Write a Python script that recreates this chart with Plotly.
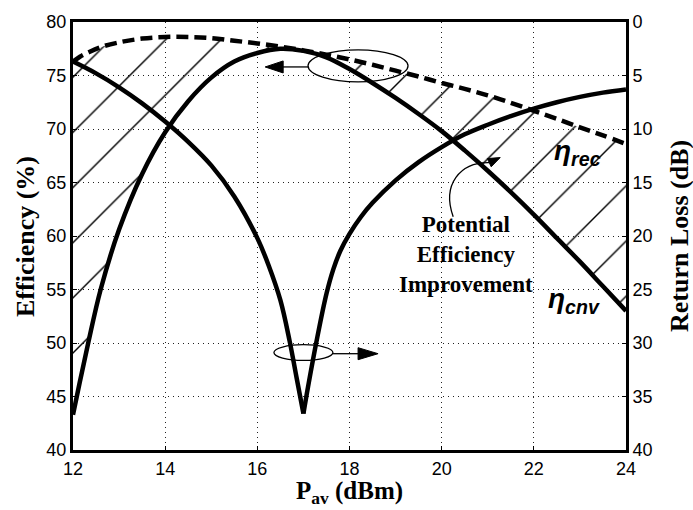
import plotly.graph_objects as go

# Available input power (dBm) for the efficiency curves
p_eff = [12, 12.15, 12.33, 12.6, 13, 13.5, 14, 14.5, 15, 15.5, 16, 16.5, 17, 17.5,
         18, 18.5, 19, 19.5, 20, 20.5, 21, 21.5, 22, 22.5, 23, 23.5, 24]
# Conversion efficiency (%)
eta_cnv = [43.3, 46.4, 50.0, 55.0, 60.6, 65.8, 69.7, 72.6, 74.8, 76.3, 77.1, 77.5, 77.3, 76.7,
           75.6, 74.3, 72.9, 71.4, 69.8, 68.0, 66.1, 64.1, 62.0, 59.8, 57.6, 55.3, 53.0]
# Rectifier efficiency (%)
eta_rec = [76.3, 76.75, 77.15, 77.65, 78.1, 78.45, 78.6, 78.6, 78.5, 78.25, 78.0, 77.7, 77.35, 76.95,
           76.5, 76.0, 75.45, 74.9, 74.3, 73.75, 73.15, 72.45, 71.7, 70.95, 70.15, 69.4, 68.6]

# Return loss (dB)
p_rl = [12, 12.5, 13, 13.5, 14, 14.5, 15, 15.5, 16, 16.25, 16.5, 16.7, 16.85, 17.0,
        17.1, 17.3, 17.5, 17.65, 17.8, 18.0, 18.25, 18.5, 19, 19.5, 20, 20.5, 21, 21.5,
        22, 22.5, 23, 23.5, 24]
return_loss = [3.7, 4.8, 6.1, 7.6, 9.3, 11.2, 13.4, 16.3, 20.2, 22.8, 26.0, 29.8, 33.2, 36.6,
               34.1, 29.5, 25.4, 23.1, 21.4, 19.8, 18.2, 16.9, 14.8, 13.1, 11.7, 10.5, 9.6, 8.8,
               8.1, 7.5, 7.0, 6.6, 6.3]

x_ticks = [12, 14, 16, 18, 20, 22, 24]
eff_ticks = [40, 45, 50, 55, 60, 65, 70, 75, 80]
rl_ticks = [0, 5, 10, 15, 20, 25, 30, 35, 40]

SERIF = "Liberation Serif, Times New Roman, serif"
SANS = "Liberation Sans, Arial, sans-serif"
LW = 4.5

fig = go.Figure()

# hatched band between the two efficiency curves
fig.add_trace(go.Scatter(x=p_eff, y=eta_cnv, mode="lines", line=dict(width=0, shape="spline"),
                         hoverinfo="skip", showlegend=False))
fig.add_trace(go.Scatter(x=p_eff, y=eta_rec, mode="lines", line=dict(width=0, shape="spline"),
                         fill="tonexty", fillcolor="rgba(0,0,0,0)",
                         fillpattern=dict(shape="/", size=39, solidity=0.036,
                                          fgcolor="black", bgcolor="rgba(0,0,0,0)", fgopacity=1),
                         hoverinfo="skip", showlegend=False))

fig.add_trace(go.Scatter(x=p_eff, y=eta_rec, mode="lines", name="eta_rec",
                         line=dict(color="black", width=LW, dash="12px,6px", shape="spline"),
                         showlegend=False))
fig.add_trace(go.Scatter(x=p_eff, y=eta_cnv, mode="lines", name="eta_cnv",
                         line=dict(color="black", width=LW, shape="spline"),
                         showlegend=False))

# return loss: two branches meeting at the sharp matching dip
i_min = return_loss.index(max(return_loss))
for xs, ys in ((p_rl[:i_min + 1], return_loss[:i_min + 1]),
               (p_rl[i_min:], return_loss[i_min:])):
    fig.add_trace(go.Scatter(x=xs, y=ys, mode="lines", name="Return loss", yaxis="y2",
                             line=dict(color="black", width=LW, shape="spline"),
                             showlegend=False))

axis_common = dict(showline=True, linecolor="black", linewidth=3, ticks="inside",
                   ticklen=4, tickwidth=1, tickcolor="black",
                   tickfont=dict(family=SANS, size=18, color="black"), zeroline=False)

fig.update_layout(
    width=693, height=510,
    margin=dict(l=73, r=67, t=15, b=60),
    paper_bgcolor="white", plot_bgcolor="white",
    xaxis=dict(range=[12, 24], tickvals=x_ticks, mirror=True, showgrid=True,
               gridcolor="#222", gridwidth=1, griddash="1px,4px", **axis_common),
    yaxis=dict(range=[40, 80], tickvals=eff_ticks, mirror=True, showgrid=True,
               gridcolor="#222", gridwidth=1, griddash="1px,4px", **axis_common),
    yaxis2=dict(range=[40, 0], tickvals=rl_ticks, overlaying="y", side="right",
                showgrid=False, **axis_common),
)

# ellipses marking which axis each curve belongs to
fig.add_shape(type="circle", xref="x", yref="y", x0=17.1, x1=19.27, y0=74.4, y1=77.4,
              line=dict(color="black", width=1.3))
fig.add_shape(type="circle", xref="x", yref="y", x0=16.36, x1=17.64, y0=48.37, y1=49.84,
              line=dict(color="black", width=1.3))

# arrow to the left axis
fig.add_shape(type="line", xref="x", yref="y", x0=16.5, x1=17.1, y0=75.8, y1=75.8,
              line=dict(color="black", width=1.3))
fig.add_shape(type="path", xref="x", yref="y", xsizemode="pixel", ysizemode="pixel",
              xanchor=16.17, yanchor=75.8, path="M0,0 L18,6 L18,-6 Z",
              fillcolor="black", line=dict(color="black", width=1))
# arrow to the right axis
fig.add_shape(type="line", xref="x", yref="y", x0=17.64, x1=18.3, y0=49.0, y1=49.0,
              line=dict(color="black", width=1.3))
fig.add_shape(type="path", xref="x", yref="y", xsizemode="pixel", ysizemode="pixel",
              xanchor=18.62, yanchor=49.0, path="M0,0 L-20,6 L-20,-6 Z",
              fillcolor="black", line=dict(color="black", width=1))

# curved pointer into the hatched band
fig.add_shape(type="path", xref="x", yref="y",
              path="M20.25,61.8 C20.0,64.8 20.4,66.9 21.03,66.85",
              line=dict(color="black", width=1.3))
fig.add_shape(type="path", xref="x", yref="y", xsizemode="pixel", ysizemode="pixel",
              xanchor=21.27, yanchor=67.33, path="M0,0 L-12.8,-1.0 L-9.0,-9.2 Z",
              fillcolor="black", line=dict(color="black", width=1))

fig.add_annotation(x=20.52, y=58.3, xref="x", yref="y", showarrow=False,
                   text="<b>Potential<br>Efficiency<br>Improvement</b>",
                   font=dict(family=SERIF, size=23, color="black"), align="center")
fig.add_annotation(x=22.94, y=67.85, xref="x", yref="y", showarrow=False,
                   text="<b><i>η<sub>rec</sub></i></b>",
                   font=dict(family=SANS, size=28, color="black"))
fig.add_annotation(x=22.87, y=54.0, xref="x", yref="y", showarrow=False,
                   text="<b><i>η<sub>cnv</sub></i></b>",
                   font=dict(family=SANS, size=28, color="black"))

# axis titles
fig.add_annotation(x=-0.0868, y=0.5, xref="paper", yref="paper", showarrow=False,
                   xanchor="center", yanchor="middle",
                   text="<b>Efficiency (%)</b>", textangle=-90,
                   font=dict(family=SERIF, size=26, color="black"))
fig.add_annotation(x=1.0958, y=0.5, xref="paper", yref="paper", showarrow=False,
                   xanchor="center", yanchor="middle",
                   text="<b>Return Loss (dB)</b>", textangle=-90,
                   font=dict(family=SERIF, size=26, color="black"))
fig.add_annotation(x=0.5, y=-0.1, xref="paper", yref="paper", showarrow=False,
                   xanchor="center", yanchor="middle",
                   text="<b>P<sub>av</sub> (dBm)</b>",
                   font=dict(family=SERIF, size=25, color="black"))

fig.write_html("out.html")
